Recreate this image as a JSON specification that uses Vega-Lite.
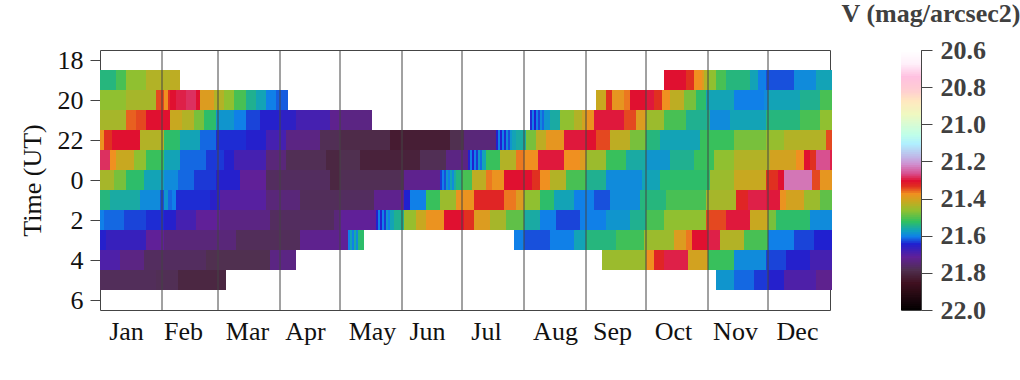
{"$schema":"https://vega.github.io/schema/vega-lite/v6.json","padding":{"left":18,"top":0,"right":0,"bottom":0},"background":"white","bounds":"flush","spacing":71,
"config":{"view":{"stroke":"#444444","strokeWidth":1},"font":"Liberation Serif"},
"datasets":{
"months":[{"d":31},{"d":59},{"d":90},{"d":120},{"d":151},{"d":181},{"d":212},{"d":243},{"d":273},{"d":304},{"d":334}],
"bar":[{"a":20.6,"b":20.62},{"a":20.61,"b":20.63},{"a":20.62,"b":20.64},{"a":20.63,"b":20.65},{"a":20.64,"b":20.66},{"a":20.65,"b":20.67},{"a":20.66,"b":20.68},{"a":20.67,"b":20.69},{"a":20.68,"b":20.7},{"a":20.69,"b":20.71},{"a":20.7,"b":20.72},{"a":20.71,"b":20.73},{"a":20.72,"b":20.74},{"a":20.73,"b":20.75},{"a":20.74,"b":20.76},{"a":20.75,"b":20.77},{"a":20.76,"b":20.78},{"a":20.77,"b":20.79},{"a":20.78,"b":20.8},{"a":20.79,"b":20.81},{"a":20.8,"b":20.82},{"a":20.81,"b":20.83},{"a":20.82,"b":20.84},{"a":20.83,"b":20.85},{"a":20.84,"b":20.86},{"a":20.85,"b":20.87},{"a":20.86,"b":20.88},{"a":20.87,"b":20.89},{"a":20.88,"b":20.9},{"a":20.89,"b":20.91},{"a":20.9,"b":20.92},{"a":20.91,"b":20.93},{"a":20.92,"b":20.94},{"a":20.93,"b":20.95},{"a":20.94,"b":20.96},{"a":20.95,"b":20.97},{"a":20.96,"b":20.98},{"a":20.97,"b":20.99},{"a":20.98,"b":21.0},{"a":20.99,"b":21.01},{"a":21.0,"b":21.02},{"a":21.01,"b":21.03},{"a":21.02,"b":21.04},{"a":21.03,"b":21.05},{"a":21.04,"b":21.06},{"a":21.05,"b":21.07},{"a":21.06,"b":21.08},{"a":21.07,"b":21.09},{"a":21.08,"b":21.1},{"a":21.09,"b":21.11},{"a":21.1,"b":21.12},{"a":21.11,"b":21.13},{"a":21.12,"b":21.14},{"a":21.13,"b":21.15},{"a":21.14,"b":21.16},{"a":21.15,"b":21.17},{"a":21.16,"b":21.18},{"a":21.17,"b":21.19},{"a":21.18,"b":21.2},{"a":21.19,"b":21.21},{"a":21.2,"b":21.22},{"a":21.21,"b":21.23},{"a":21.22,"b":21.24},{"a":21.23,"b":21.25},{"a":21.24,"b":21.26},{"a":21.25,"b":21.27},{"a":21.26,"b":21.28},{"a":21.27,"b":21.29},{"a":21.28,"b":21.3},{"a":21.29,"b":21.31},{"a":21.3,"b":21.32},{"a":21.31,"b":21.33},{"a":21.32,"b":21.34},{"a":21.33,"b":21.35},{"a":21.34,"b":21.36},{"a":21.35,"b":21.37},{"a":21.36,"b":21.38},{"a":21.37,"b":21.39},{"a":21.38,"b":21.4},{"a":21.39,"b":21.41},{"a":21.4,"b":21.42},{"a":21.41,"b":21.43},{"a":21.42,"b":21.44},{"a":21.43,"b":21.45},{"a":21.44,"b":21.46},{"a":21.45,"b":21.47},{"a":21.46,"b":21.48},{"a":21.47,"b":21.49},{"a":21.48,"b":21.5},{"a":21.49,"b":21.51},{"a":21.5,"b":21.52},{"a":21.51,"b":21.53},{"a":21.52,"b":21.54},{"a":21.53,"b":21.55},{"a":21.54,"b":21.56},{"a":21.55,"b":21.57},{"a":21.56,"b":21.58},{"a":21.57,"b":21.59},{"a":21.58,"b":21.6},{"a":21.59,"b":21.61},{"a":21.6,"b":21.62},{"a":21.61,"b":21.63},{"a":21.62,"b":21.64},{"a":21.63,"b":21.65},{"a":21.64,"b":21.66},{"a":21.65,"b":21.67},{"a":21.66,"b":21.68},{"a":21.67,"b":21.69},{"a":21.68,"b":21.7},{"a":21.69,"b":21.71},{"a":21.7,"b":21.72},{"a":21.71,"b":21.73},{"a":21.72,"b":21.74},{"a":21.73,"b":21.75},{"a":21.74,"b":21.76},{"a":21.75,"b":21.77},{"a":21.76,"b":21.78},{"a":21.77,"b":21.79},{"a":21.78,"b":21.8},{"a":21.79,"b":21.81},{"a":21.8,"b":21.82},{"a":21.81,"b":21.83},{"a":21.82,"b":21.84},{"a":21.83,"b":21.85},{"a":21.84,"b":21.86},{"a":21.85,"b":21.87},{"a":21.86,"b":21.88},{"a":21.87,"b":21.89},{"a":21.88,"b":21.9},{"a":21.89,"b":21.91},{"a":21.9,"b":21.92},{"a":21.91,"b":21.93},{"a":21.92,"b":21.94},{"a":21.93,"b":21.95},{"a":21.94,"b":21.96},{"a":21.95,"b":21.97},{"a":21.96,"b":21.98},{"a":21.97,"b":21.99},{"a":21.98,"b":22.0},{"a":21.99,"b":22.0}],
"cells":[
{"d0":0,"d1":8,"t0":18.5,"t1":19.5,"v":21.535},{"d0":8,"d1":13,"t0":18.5,"t1":19.5,"v":21.505},{"d0":13,"d1":23,"t0":18.5,"t1":19.5,"v":21.46},{"d0":23,"d1":35,"t0":18.5,"t1":19.5,"v":21.43},{"d0":35,"d1":40,"t0":18.5,"t1":19.5,"v":21.42},
{"d0":282,"d1":293,"t0":18.5,"t1":19.5,"v":21.30},{"d0":293,"d1":297,"t0":18.5,"t1":19.5,"v":21.33},{"d0":297,"d1":301,"t0":18.5,"t1":19.5,"v":21.37},{"d0":301,"d1":302,"t0":18.5,"t1":19.5,"v":21.39},{"d0":302,"d1":304,"t0":18.5,"t1":19.5,"v":21.43},{"d0":304,"d1":308,"t0":18.5,"t1":19.5,"v":21.46},{"d0":308,"d1":313,"t0":18.5,"t1":19.5,"v":21.505},{"d0":313,"d1":325,"t0":18.5,"t1":19.5,"v":21.535},{"d0":325,"d1":329,"t0":18.5,"t1":19.5,"v":21.565},{"d0":329,"d1":333,"t0":18.5,"t1":19.5,"v":21.60},{"d0":333,"d1":347,"t0":18.5,"t1":19.5,"v":21.62},{"d0":347,"d1":358,"t0":18.5,"t1":19.5,"v":21.59},{"d0":358,"d1":366,"t0":18.5,"t1":19.5,"v":21.565},
{"d0":0,"d1":13,"t0":19.5,"t1":20.5,"v":21.46},{"d0":13,"d1":28,"t0":19.5,"t1":20.5,"v":21.44},{"d0":28,"d1":32,"t0":19.5,"t1":20.5,"v":21.34},{"d0":32,"d1":34,"t0":19.5,"t1":20.5,"v":21.37},{"d0":34,"d1":35,"t0":19.5,"t1":20.5,"v":21.33},{"d0":35,"d1":38,"t0":19.5,"t1":20.5,"v":21.30},{"d0":38,"d1":43,"t0":19.5,"t1":20.5,"v":21.29},{"d0":43,"d1":48,"t0":19.5,"t1":20.5,"v":21.28},{"d0":48,"d1":50,"t0":19.5,"t1":20.5,"v":21.30},{"d0":50,"d1":57,"t0":19.5,"t1":20.5,"v":21.39},{"d0":57,"d1":62,"t0":19.5,"t1":20.5,"v":21.43},{"d0":62,"d1":67,"t0":19.5,"t1":20.5,"v":21.46},{"d0":67,"d1":73,"t0":19.5,"t1":20.5,"v":21.505},{"d0":73,"d1":78,"t0":19.5,"t1":20.5,"v":21.545},{"d0":78,"d1":83,"t0":19.5,"t1":20.5,"v":21.565},{"d0":83,"d1":88,"t0":19.5,"t1":20.5,"v":21.60},{"d0":88,"d1":94,"t0":19.5,"t1":20.5,"v":21.615},
{"d0":248,"d1":253,"t0":19.5,"t1":20.5,"v":21.41},{"d0":253,"d1":256,"t0":19.5,"t1":20.5,"v":21.33},{"d0":256,"d1":262,"t0":19.5,"t1":20.5,"v":21.38},{"d0":262,"d1":265,"t0":19.5,"t1":20.5,"v":21.36},{"d0":265,"d1":273,"t0":19.5,"t1":20.5,"v":21.30},{"d0":273,"d1":277,"t0":19.5,"t1":20.5,"v":21.295},{"d0":277,"d1":281,"t0":19.5,"t1":20.5,"v":21.33},{"d0":281,"d1":285,"t0":19.5,"t1":20.5,"v":21.37},{"d0":285,"d1":292,"t0":19.5,"t1":20.5,"v":21.42},{"d0":292,"d1":298,"t0":19.5,"t1":20.5,"v":21.475},{"d0":298,"d1":303,"t0":19.5,"t1":20.5,"v":21.525},{"d0":303,"d1":317,"t0":19.5,"t1":20.5,"v":21.565},{"d0":317,"d1":332,"t0":19.5,"t1":20.5,"v":21.60},{"d0":332,"d1":334,"t0":19.5,"t1":20.5,"v":21.59},{"d0":334,"d1":350,"t0":19.5,"t1":20.5,"v":21.565},{"d0":350,"d1":360,"t0":19.5,"t1":20.5,"v":21.545},{"d0":360,"d1":366,"t0":19.5,"t1":20.5,"v":21.505},
{"d0":0,"d1":13,"t0":20.5,"t1":21.5,"v":21.44},{"d0":13,"d1":18,"t0":20.5,"t1":21.5,"v":21.35},{"d0":18,"d1":23,"t0":20.5,"t1":21.5,"v":21.34},{"d0":23,"d1":35,"t0":20.5,"t1":21.5,"v":21.30},{"d0":35,"d1":41,"t0":20.5,"t1":21.5,"v":21.41},{"d0":41,"d1":47,"t0":20.5,"t1":21.5,"v":21.43},{"d0":47,"d1":52,"t0":20.5,"t1":21.5,"v":21.475},{"d0":52,"d1":58,"t0":20.5,"t1":21.5,"v":21.525},{"d0":58,"d1":67,"t0":20.5,"t1":21.5,"v":21.58},{"d0":67,"d1":73,"t0":20.5,"t1":21.5,"v":21.60},{"d0":73,"d1":80,"t0":20.5,"t1":21.5,"v":21.625},{"d0":80,"d1":90,"t0":20.5,"t1":21.5,"v":21.645},{"d0":90,"d1":98,"t0":20.5,"t1":21.5,"v":21.655},{"d0":98,"d1":115,"t0":20.5,"t1":21.5,"v":21.68},{"d0":115,"d1":120,"t0":20.5,"t1":21.5,"v":21.72},{"d0":120,"d1":136,"t0":20.5,"t1":21.5,"v":21.73},
{"d0":215,"d1":216,"t0":20.5,"t1":21.5,"v":21.635},{"d0":216,"d1":217,"t0":20.5,"t1":21.5,"v":21.60},{"d0":217,"d1":218,"t0":20.5,"t1":21.5,"v":21.64},{"d0":218,"d1":219,"t0":20.5,"t1":21.5,"v":21.60},{"d0":219,"d1":220,"t0":20.5,"t1":21.5,"v":21.625},{"d0":220,"d1":221,"t0":20.5,"t1":21.5,"v":21.59},{"d0":221,"d1":222,"t0":20.5,"t1":21.5,"v":21.61},{"d0":222,"d1":225,"t0":20.5,"t1":21.5,"v":21.58},{"d0":225,"d1":230,"t0":20.5,"t1":21.5,"v":21.555},{"d0":230,"d1":237,"t0":20.5,"t1":21.5,"v":21.46},{"d0":237,"d1":241,"t0":20.5,"t1":21.5,"v":21.43},{"d0":241,"d1":243,"t0":20.5,"t1":21.5,"v":21.40},{"d0":243,"d1":247,"t0":20.5,"t1":21.5,"v":21.375},{"d0":247,"d1":262,"t0":20.5,"t1":21.5,"v":21.295},{"d0":262,"d1":268,"t0":20.5,"t1":21.5,"v":21.34},{"d0":268,"d1":273,"t0":20.5,"t1":21.5,"v":21.39},{"d0":273,"d1":282,"t0":20.5,"t1":21.5,"v":21.45},{"d0":282,"d1":293,"t0":20.5,"t1":21.5,"v":21.505},{"d0":293,"d1":305,"t0":20.5,"t1":21.5,"v":21.545},{"d0":305,"d1":315,"t0":20.5,"t1":21.5,"v":21.59},{"d0":315,"d1":333,"t0":20.5,"t1":21.5,"v":21.565},{"d0":333,"d1":350,"t0":20.5,"t1":21.5,"v":21.535},{"d0":350,"d1":360,"t0":20.5,"t1":21.5,"v":21.505},{"d0":360,"d1":366,"t0":20.5,"t1":21.5,"v":21.46},
{"d0":0,"d1":2,"t0":21.5,"t1":22.5,"v":21.375},{"d0":2,"d1":6,"t0":21.5,"t1":22.5,"v":21.33},{"d0":6,"d1":20,"t0":21.5,"t1":22.5,"v":21.30},{"d0":20,"d1":32,"t0":21.5,"t1":22.5,"v":21.43},{"d0":32,"d1":40,"t0":21.5,"t1":22.5,"v":21.525},{"d0":40,"d1":50,"t0":21.5,"t1":22.5,"v":21.565},{"d0":50,"d1":58,"t0":21.5,"t1":22.5,"v":21.61},{"d0":58,"d1":73,"t0":21.5,"t1":22.5,"v":21.635},{"d0":73,"d1":83,"t0":21.5,"t1":22.5,"v":21.645},{"d0":83,"d1":93,"t0":21.5,"t1":22.5,"v":21.68},{"d0":93,"d1":110,"t0":21.5,"t1":22.5,"v":21.73},{"d0":110,"d1":120,"t0":21.5,"t1":22.5,"v":21.775},{"d0":120,"d1":145,"t0":21.5,"t1":22.5,"v":21.79},{"d0":145,"d1":150,"t0":21.5,"t1":22.5,"v":21.825},{"d0":150,"d1":175,"t0":21.5,"t1":22.5,"v":21.82},{"d0":175,"d1":182,"t0":21.5,"t1":22.5,"v":21.78},{"d0":182,"d1":198,"t0":21.5,"t1":22.5,"v":21.74},
{"d0":198,"d1":199,"t0":21.5,"t1":22.5,"v":21.645},{"d0":199,"d1":200,"t0":21.5,"t1":22.5,"v":21.60},{"d0":200,"d1":201,"t0":21.5,"t1":22.5,"v":21.64},{"d0":201,"d1":202,"t0":21.5,"t1":22.5,"v":21.60},{"d0":202,"d1":203,"t0":21.5,"t1":22.5,"v":21.635},{"d0":203,"d1":204,"t0":21.5,"t1":22.5,"v":21.59},{"d0":204,"d1":205,"t0":21.5,"t1":22.5,"v":21.62},{"d0":205,"d1":206,"t0":21.5,"t1":22.5,"v":21.58},{"d0":206,"d1":208,"t0":21.5,"t1":22.5,"v":21.565},{"d0":208,"d1":213,"t0":21.5,"t1":22.5,"v":21.555},{"d0":213,"d1":218,"t0":21.5,"t1":22.5,"v":21.475},{"d0":218,"d1":223,"t0":21.5,"t1":22.5,"v":21.42},{"d0":223,"d1":232,"t0":21.5,"t1":22.5,"v":21.38},{"d0":232,"d1":243,"t0":21.5,"t1":22.5,"v":21.295},{"d0":243,"d1":248,"t0":21.5,"t1":22.5,"v":21.30},{"d0":248,"d1":255,"t0":21.5,"t1":22.5,"v":21.34},{"d0":255,"d1":265,"t0":21.5,"t1":22.5,"v":21.42},{"d0":265,"d1":273,"t0":21.5,"t1":22.5,"v":21.475},{"d0":273,"d1":280,"t0":21.5,"t1":22.5,"v":21.535},{"d0":280,"d1":300,"t0":21.5,"t1":22.5,"v":21.565},{"d0":300,"d1":317,"t0":21.5,"t1":22.5,"v":21.515},{"d0":317,"d1":333,"t0":21.5,"t1":22.5,"v":21.475},{"d0":333,"d1":342,"t0":21.5,"t1":22.5,"v":21.455},{"d0":342,"d1":363,"t0":21.5,"t1":22.5,"v":21.43},{"d0":363,"d1":366,"t0":21.5,"t1":22.5,"v":21.34},
{"d0":0,"d1":5,"t0":22.5,"t1":23.5,"v":21.28},{"d0":5,"d1":8,"t0":22.5,"t1":23.5,"v":21.37},{"d0":8,"d1":17,"t0":22.5,"t1":23.5,"v":21.41},{"d0":17,"d1":23,"t0":22.5,"t1":23.5,"v":21.46},{"d0":23,"d1":32,"t0":22.5,"t1":23.5,"v":21.515},{"d0":32,"d1":40,"t0":22.5,"t1":23.5,"v":21.565},{"d0":40,"d1":53,"t0":22.5,"t1":23.5,"v":21.61},{"d0":53,"d1":62,"t0":22.5,"t1":23.5,"v":21.63},{"d0":62,"d1":67,"t0":22.5,"t1":23.5,"v":21.645},{"d0":67,"d1":83,"t0":22.5,"t1":23.5,"v":21.68},{"d0":83,"d1":93,"t0":22.5,"t1":23.5,"v":21.74},{"d0":93,"d1":113,"t0":22.5,"t1":23.5,"v":21.775},{"d0":113,"d1":120,"t0":22.5,"t1":23.5,"v":21.80},{"d0":120,"d1":130,"t0":22.5,"t1":23.5,"v":21.78},{"d0":130,"d1":160,"t0":22.5,"t1":23.5,"v":21.81},{"d0":160,"d1":173,"t0":22.5,"t1":23.5,"v":21.775},{"d0":173,"d1":184,"t0":22.5,"t1":23.5,"v":21.73},
{"d0":184,"d1":185,"t0":22.5,"t1":23.5,"v":21.645},{"d0":185,"d1":186,"t0":22.5,"t1":23.5,"v":21.60},{"d0":186,"d1":187,"t0":22.5,"t1":23.5,"v":21.64},{"d0":187,"d1":188,"t0":22.5,"t1":23.5,"v":21.60},{"d0":188,"d1":189,"t0":22.5,"t1":23.5,"v":21.63},{"d0":189,"d1":190,"t0":22.5,"t1":23.5,"v":21.58},{"d0":190,"d1":191,"t0":22.5,"t1":23.5,"v":21.61},{"d0":191,"d1":193,"t0":22.5,"t1":23.5,"v":21.565},{"d0":193,"d1":200,"t0":22.5,"t1":23.5,"v":21.515},{"d0":200,"d1":208,"t0":22.5,"t1":23.5,"v":21.43},{"d0":208,"d1":212,"t0":22.5,"t1":23.5,"v":21.36},{"d0":212,"d1":219,"t0":22.5,"t1":23.5,"v":21.37},{"d0":219,"d1":232,"t0":22.5,"t1":23.5,"v":21.295},{"d0":232,"d1":240,"t0":22.5,"t1":23.5,"v":21.37},{"d0":240,"d1":243,"t0":22.5,"t1":23.5,"v":21.39},{"d0":243,"d1":253,"t0":22.5,"t1":23.5,"v":21.45},{"d0":253,"d1":263,"t0":22.5,"t1":23.5,"v":21.515},{"d0":263,"d1":273,"t0":22.5,"t1":23.5,"v":21.555},{"d0":273,"d1":285,"t0":22.5,"t1":23.5,"v":21.58},{"d0":285,"d1":297,"t0":22.5,"t1":23.5,"v":21.545},{"d0":297,"d1":307,"t0":22.5,"t1":23.5,"v":21.515},{"d0":307,"d1":317,"t0":22.5,"t1":23.5,"v":21.46},{"d0":317,"d1":335,"t0":22.5,"t1":23.5,"v":21.43},{"d0":335,"d1":348,"t0":22.5,"t1":23.5,"v":21.40},{"d0":348,"d1":352,"t0":22.5,"t1":23.5,"v":21.37},{"d0":352,"d1":355,"t0":22.5,"t1":23.5,"v":21.30},{"d0":355,"d1":358,"t0":22.5,"t1":23.5,"v":21.33},{"d0":358,"d1":365,"t0":22.5,"t1":23.5,"v":21.26},{"d0":365,"d1":366,"t0":22.5,"t1":23.5,"v":21.29},
{"d0":0,"d1":7,"t0":23.5,"t1":24.5,"v":21.44},{"d0":7,"d1":13,"t0":23.5,"t1":24.5,"v":21.475},{"d0":13,"d1":22,"t0":23.5,"t1":24.5,"v":21.525},{"d0":22,"d1":32,"t0":23.5,"t1":24.5,"v":21.565},{"d0":32,"d1":39,"t0":23.5,"t1":24.5,"v":21.59},{"d0":39,"d1":47,"t0":23.5,"t1":24.5,"v":21.61},{"d0":47,"d1":58,"t0":23.5,"t1":24.5,"v":21.63},{"d0":58,"d1":70,"t0":23.5,"t1":24.5,"v":21.645},{"d0":70,"d1":83,"t0":23.5,"t1":24.5,"v":21.71},{"d0":83,"d1":115,"t0":23.5,"t1":24.5,"v":21.765},{"d0":115,"d1":120,"t0":23.5,"t1":24.5,"v":21.80},{"d0":120,"d1":152,"t0":23.5,"t1":24.5,"v":21.775},{"d0":152,"d1":170,"t0":23.5,"t1":24.5,"v":21.72},
{"d0":170,"d1":171,"t0":23.5,"t1":24.5,"v":21.63},{"d0":171,"d1":172,"t0":23.5,"t1":24.5,"v":21.60},{"d0":172,"d1":173,"t0":23.5,"t1":24.5,"v":21.62},{"d0":173,"d1":174,"t0":23.5,"t1":24.5,"v":21.58},{"d0":174,"d1":175,"t0":23.5,"t1":24.5,"v":21.60},{"d0":175,"d1":176,"t0":23.5,"t1":24.5,"v":21.565},{"d0":176,"d1":177,"t0":23.5,"t1":24.5,"v":21.59},{"d0":177,"d1":178,"t0":23.5,"t1":24.5,"v":21.555},{"d0":178,"d1":181,"t0":23.5,"t1":24.5,"v":21.535},{"d0":181,"d1":186,"t0":23.5,"t1":24.5,"v":21.505},{"d0":186,"d1":193,"t0":23.5,"t1":24.5,"v":21.42},{"d0":193,"d1":196,"t0":23.5,"t1":24.5,"v":21.36},{"d0":196,"d1":202,"t0":23.5,"t1":24.5,"v":21.375},{"d0":202,"d1":216,"t0":23.5,"t1":24.5,"v":21.30},{"d0":216,"d1":220,"t0":23.5,"t1":24.5,"v":21.33},{"d0":220,"d1":225,"t0":23.5,"t1":24.5,"v":21.37},{"d0":225,"d1":233,"t0":23.5,"t1":24.5,"v":21.43},{"d0":233,"d1":243,"t0":23.5,"t1":24.5,"v":21.505},{"d0":243,"d1":253,"t0":23.5,"t1":24.5,"v":21.545},{"d0":253,"d1":271,"t0":23.5,"t1":24.5,"v":21.59},{"d0":271,"d1":280,"t0":23.5,"t1":24.5,"v":21.565},{"d0":280,"d1":305,"t0":23.5,"t1":24.5,"v":21.525},{"d0":305,"d1":317,"t0":23.5,"t1":24.5,"v":21.45},{"d0":317,"d1":333,"t0":23.5,"t1":24.5,"v":21.41},{"d0":333,"d1":339,"t0":23.5,"t1":24.5,"v":21.33},{"d0":339,"d1":342,"t0":23.5,"t1":24.5,"v":21.30},{"d0":342,"d1":356,"t0":23.5,"t1":24.5,"v":21.23},{"d0":356,"d1":360,"t0":23.5,"t1":24.5,"v":21.34},{"d0":360,"d1":366,"t0":23.5,"t1":24.5,"v":21.38},
{"d0":0,"d1":5,"t0":24.5,"t1":25.5,"v":21.535},{"d0":5,"d1":20,"t0":24.5,"t1":25.5,"v":21.555},{"d0":20,"d1":30,"t0":24.5,"t1":25.5,"v":21.59},{"d0":30,"d1":32,"t0":24.5,"t1":25.5,"v":21.62},{"d0":32,"d1":34,"t0":24.5,"t1":25.5,"v":21.58},{"d0":34,"d1":36,"t0":24.5,"t1":25.5,"v":21.61},{"d0":36,"d1":38,"t0":24.5,"t1":25.5,"v":21.60},{"d0":38,"d1":55,"t0":24.5,"t1":25.5,"v":21.635},{"d0":55,"d1":60,"t0":24.5,"t1":25.5,"v":21.65},{"d0":60,"d1":83,"t0":24.5,"t1":25.5,"v":21.70},{"d0":83,"d1":100,"t0":24.5,"t1":25.5,"v":21.74},{"d0":100,"d1":120,"t0":24.5,"t1":25.5,"v":21.77},{"d0":120,"d1":137,"t0":24.5,"t1":25.5,"v":21.765},{"d0":137,"d1":152,"t0":24.5,"t1":25.5,"v":21.72},{"d0":152,"d1":155,"t0":24.5,"t1":25.5,"v":21.64},{"d0":155,"d1":163,"t0":24.5,"t1":25.5,"v":21.60},{"d0":163,"d1":170,"t0":24.5,"t1":25.5,"v":21.515},{"d0":170,"d1":178,"t0":24.5,"t1":25.5,"v":21.45},{"d0":178,"d1":187,"t0":24.5,"t1":25.5,"v":21.375},{"d0":187,"d1":202,"t0":24.5,"t1":25.5,"v":21.32},{"d0":202,"d1":208,"t0":24.5,"t1":25.5,"v":21.36},{"d0":208,"d1":212,"t0":24.5,"t1":25.5,"v":21.39},{"d0":212,"d1":220,"t0":24.5,"t1":25.5,"v":21.46},{"d0":220,"d1":227,"t0":24.5,"t1":25.5,"v":21.525},{"d0":227,"d1":237,"t0":24.5,"t1":25.5,"v":21.565},{"d0":237,"d1":247,"t0":24.5,"t1":25.5,"v":21.60},{"d0":247,"d1":255,"t0":24.5,"t1":25.5,"v":21.62},{"d0":255,"d1":270,"t0":24.5,"t1":25.5,"v":21.59},{"d0":270,"d1":283,"t0":24.5,"t1":25.5,"v":21.535},{"d0":283,"d1":303,"t0":24.5,"t1":25.5,"v":21.505},{"d0":303,"d1":318,"t0":24.5,"t1":25.5,"v":21.44},{"d0":318,"d1":324,"t0":24.5,"t1":25.5,"v":21.32},{"d0":324,"d1":333,"t0":24.5,"t1":25.5,"v":21.29},{"d0":333,"d1":340,"t0":24.5,"t1":25.5,"v":21.295},{"d0":340,"d1":343,"t0":24.5,"t1":25.5,"v":21.375},{"d0":343,"d1":352,"t0":24.5,"t1":25.5,"v":21.40},{"d0":352,"d1":360,"t0":24.5,"t1":25.5,"v":21.45},{"d0":360,"d1":366,"t0":24.5,"t1":25.5,"v":21.49},
{"d0":0,"d1":2,"t0":25.5,"t1":26.5,"v":21.60},{"d0":2,"d1":12,"t0":25.5,"t1":26.5,"v":21.61},{"d0":12,"d1":23,"t0":25.5,"t1":26.5,"v":21.625},{"d0":23,"d1":32,"t0":25.5,"t1":26.5,"v":21.635},{"d0":32,"d1":38,"t0":25.5,"t1":26.5,"v":21.645},{"d0":38,"d1":48,"t0":25.5,"t1":26.5,"v":21.68},{"d0":48,"d1":60,"t0":25.5,"t1":26.5,"v":21.71},{"d0":60,"d1":85,"t0":25.5,"t1":26.5,"v":21.73},{"d0":85,"d1":117,"t0":25.5,"t1":26.5,"v":21.765},{"d0":117,"d1":120,"t0":25.5,"t1":26.5,"v":21.74},{"d0":120,"d1":138,"t0":25.5,"t1":26.5,"v":21.71},
{"d0":138,"d1":139,"t0":25.5,"t1":26.5,"v":21.645},{"d0":139,"d1":140,"t0":25.5,"t1":26.5,"v":21.60},{"d0":140,"d1":141,"t0":25.5,"t1":26.5,"v":21.64},{"d0":141,"d1":142,"t0":25.5,"t1":26.5,"v":21.60},{"d0":142,"d1":143,"t0":25.5,"t1":26.5,"v":21.63},{"d0":143,"d1":144,"t0":25.5,"t1":26.5,"v":21.58},{"d0":144,"d1":145,"t0":25.5,"t1":26.5,"v":21.60},{"d0":145,"d1":147,"t0":25.5,"t1":26.5,"v":21.565},{"d0":147,"d1":152,"t0":25.5,"t1":26.5,"v":21.545},{"d0":152,"d1":158,"t0":25.5,"t1":26.5,"v":21.455},{"d0":158,"d1":163,"t0":25.5,"t1":26.5,"v":21.41},{"d0":163,"d1":172,"t0":25.5,"t1":26.5,"v":21.375},{"d0":172,"d1":182,"t0":25.5,"t1":26.5,"v":21.30},{"d0":182,"d1":187,"t0":25.5,"t1":26.5,"v":21.33},{"d0":187,"d1":195,"t0":25.5,"t1":26.5,"v":21.39},{"d0":195,"d1":203,"t0":25.5,"t1":26.5,"v":21.44},{"d0":203,"d1":212,"t0":25.5,"t1":26.5,"v":21.49},{"d0":212,"d1":220,"t0":25.5,"t1":26.5,"v":21.555},{"d0":220,"d1":228,"t0":25.5,"t1":26.5,"v":21.60},{"d0":228,"d1":240,"t0":25.5,"t1":26.5,"v":21.625},{"d0":240,"d1":253,"t0":25.5,"t1":26.5,"v":21.60},{"d0":253,"d1":265,"t0":25.5,"t1":26.5,"v":21.58},{"d0":265,"d1":273,"t0":25.5,"t1":26.5,"v":21.545},{"d0":273,"d1":282,"t0":25.5,"t1":26.5,"v":21.505},{"d0":282,"d1":303,"t0":25.5,"t1":26.5,"v":21.46},{"d0":303,"d1":313,"t0":25.5,"t1":26.5,"v":21.34},{"d0":313,"d1":325,"t0":25.5,"t1":26.5,"v":21.295},{"d0":325,"d1":334,"t0":25.5,"t1":26.5,"v":21.41},{"d0":334,"d1":338,"t0":25.5,"t1":26.5,"v":21.475},{"d0":338,"d1":355,"t0":25.5,"t1":26.5,"v":21.525},{"d0":355,"d1":366,"t0":25.5,"t1":26.5,"v":21.59},
{"d0":0,"d1":3,"t0":26.5,"t1":27.5,"v":21.645},{"d0":3,"d1":23,"t0":26.5,"t1":27.5,"v":21.665},{"d0":23,"d1":32,"t0":26.5,"t1":27.5,"v":21.71},{"d0":32,"d1":68,"t0":26.5,"t1":27.5,"v":21.74},{"d0":68,"d1":100,"t0":26.5,"t1":27.5,"v":21.77},{"d0":100,"d1":120,"t0":26.5,"t1":27.5,"v":21.72},{"d0":120,"d1":124,"t0":26.5,"t1":27.5,"v":21.71},{"d0":124,"d1":125,"t0":26.5,"t1":27.5,"v":21.60},{"d0":125,"d1":126,"t0":26.5,"t1":27.5,"v":21.565},{"d0":126,"d1":127,"t0":26.5,"t1":27.5,"v":21.60},{"d0":127,"d1":128,"t0":26.5,"t1":27.5,"v":21.555},{"d0":128,"d1":129,"t0":26.5,"t1":27.5,"v":21.59},{"d0":129,"d1":130,"t0":26.5,"t1":27.5,"v":21.535},{"d0":130,"d1":132,"t0":26.5,"t1":27.5,"v":21.525},
{"d0":207,"d1":212,"t0":26.5,"t1":27.5,"v":21.60},{"d0":212,"d1":225,"t0":26.5,"t1":27.5,"v":21.62},{"d0":225,"d1":237,"t0":26.5,"t1":27.5,"v":21.60},{"d0":237,"d1":243,"t0":26.5,"t1":27.5,"v":21.565},{"d0":243,"d1":258,"t0":26.5,"t1":27.5,"v":21.535},{"d0":258,"d1":272,"t0":26.5,"t1":27.5,"v":21.51},{"d0":272,"d1":287,"t0":26.5,"t1":27.5,"v":21.45},{"d0":287,"d1":293,"t0":26.5,"t1":27.5,"v":21.39},{"d0":293,"d1":296,"t0":26.5,"t1":27.5,"v":21.36},{"d0":296,"d1":304,"t0":26.5,"t1":27.5,"v":21.30},{"d0":304,"d1":310,"t0":26.5,"t1":27.5,"v":21.29},{"d0":310,"d1":322,"t0":26.5,"t1":27.5,"v":21.43},{"d0":322,"d1":334,"t0":26.5,"t1":27.5,"v":21.505},{"d0":334,"d1":347,"t0":26.5,"t1":27.5,"v":21.60},{"d0":347,"d1":357,"t0":26.5,"t1":27.5,"v":21.625},{"d0":357,"d1":366,"t0":26.5,"t1":27.5,"v":21.64},
{"d0":0,"d1":10,"t0":27.5,"t1":28.5,"v":21.69},{"d0":10,"d1":22,"t0":27.5,"t1":28.5,"v":21.73},{"d0":22,"d1":53,"t0":27.5,"t1":28.5,"v":21.765},{"d0":53,"d1":85,"t0":27.5,"t1":28.5,"v":21.78},{"d0":85,"d1":98,"t0":27.5,"t1":28.5,"v":21.73},
{"d0":251,"d1":273,"t0":27.5,"t1":28.5,"v":21.45},{"d0":273,"d1":277,"t0":27.5,"t1":28.5,"v":21.37},{"d0":277,"d1":282,"t0":27.5,"t1":28.5,"v":21.32},{"d0":282,"d1":294,"t0":27.5,"t1":28.5,"v":21.29},{"d0":294,"d1":304,"t0":27.5,"t1":28.5,"v":21.40},{"d0":304,"d1":317,"t0":27.5,"t1":28.5,"v":21.515},{"d0":317,"d1":333,"t0":27.5,"t1":28.5,"v":21.59},{"d0":333,"d1":343,"t0":27.5,"t1":28.5,"v":21.625},{"d0":343,"d1":355,"t0":27.5,"t1":28.5,"v":21.645},{"d0":355,"d1":366,"t0":27.5,"t1":28.5,"v":21.68},
{"d0":0,"d1":28,"t0":28.5,"t1":29.5,"v":21.77},{"d0":28,"d1":39,"t0":28.5,"t1":29.5,"v":21.775},{"d0":39,"d1":63,"t0":28.5,"t1":29.5,"v":21.80},
{"d0":308,"d1":317,"t0":28.5,"t1":29.5,"v":21.58},{"d0":317,"d1":327,"t0":28.5,"t1":29.5,"v":21.61},{"d0":327,"d1":334,"t0":28.5,"t1":29.5,"v":21.63},{"d0":334,"d1":342,"t0":28.5,"t1":29.5,"v":21.645},{"d0":342,"d1":358,"t0":28.5,"t1":29.5,"v":21.69},{"d0":358,"d1":366,"t0":28.5,"t1":29.5,"v":21.72}
]},
"hconcat":[
{"width":730,"height":260,"layer":[
{"data":{"name":"cells"},"mark":{"type":"rect","clip":false},
"encoding":{
"x":{"field":"d0","type":"quantitative","scale":{"domain":[0,365],"nice":false,"zero":false},
"axis":{"title":null,"grid":false,"domain":false,"tickSize":0,"labelPadding":8,"labelFont":"Liberation Serif","labelFontSize":26,"labelColor":"#111111","labelFlush":false,"labelOverlap":false,
"values":[13,41.5,73.5,102.5,136,163.5,193,227.5,256,286.5,317.5,348.5],
"labelExpr":"['Jan','Feb','Mar','Apr','May','Jun','Jul','Aug','Sep','Oct','Nov','Dec'][indexof([13,41.5,73.5,102.5,136,163.5,193,227.5,256,286.5,317.5,348.5],datum.value)]"}},
"x2":{"field":"d1"},
"y":{"field":"t0","type":"quantitative","scale":{"domain":[17.5,30.5],"nice":false,"zero":false,"reverse":true},
"axis":{"title":"Time (UT)","titleFont":"Liberation Serif","titleFontSize":26,"titleFontWeight":"normal","titleColor":"#111111","titlePadding":12,"grid":false,"domain":false,"tickSize":10,"tickColor":"#444444","tickWidth":1,"labelPadding":7,"labelFont":"Liberation Serif","labelFontSize":26,"labelColor":"#111111",
"values":[18,20,22,24,26,28,30],"labelExpr":"datum.value%24"}},
"y2":{"field":"t1"},
"color":{"field":"v","type":"quantitative","legend":null,"scale":{"interpolate":"rgb","domain":[20.6,20.67,20.74,20.82,20.87,20.94,21.05,21.10,21.17,21.21,21.26,21.30,21.33,21.37,21.41,21.46,21.52,21.57,21.60,21.64,21.71,21.78,21.85,22.0],"range":["#ffffff","#fff0fa","#ffc0e0","#ffd0d0","#ffe8c0","#f0f8c0","#c0ffe8","#b0f0ff","#c0b8e8","#d090d0","#d85090","#e01030","#e03020","#f09020","#c8a820","#90c030","#30c060","#10a0c0","#1080e8","#2020d0","#602098","#503050","#401020","#000000"]}}
}},
{"data":{"name":"months"},"mark":{"type":"rule","color":"#444444","strokeWidth":1},"encoding":{"x":{"field":"d","type":"quantitative"}}}
]},
{"width":20,"height":260,"data":{"name":"bar"},
"title":{"text":"V (mag/arcsec2)","font":"Liberation Serif","fontSize":26,"fontWeight":"bold","color":"#404040","anchor":"middle","dx":20,"offset":10},
"mark":{"type":"rect"},
"encoding":{
"y":{"field":"a","type":"quantitative","scale":{"domain":[20.6,22.0],"nice":false,"zero":false,"reverse":true},
"axis":{"title":null,"orient":"right","grid":false,"domain":false,"tickSize":11,"tickColor":"#444444","labelPadding":8,"labelFont":"Liberation Serif","labelFontSize":26,"labelFontWeight":"bold","labelColor":"#404040","format":".1f","values":[20.6,20.8,21.0,21.2,21.4,21.6,21.8,22.0]}},
"y2":{"field":"b"},
"color":{"field":"a","type":"quantitative","legend":null,"scale":{"interpolate":"rgb","domain":[20.6,20.67,20.74,20.82,20.87,20.94,21.05,21.10,21.17,21.21,21.26,21.30,21.33,21.37,21.41,21.46,21.52,21.57,21.60,21.64,21.71,21.78,21.85,22.0],"range":["#ffffff","#fff0fa","#ffc0e0","#ffd0d0","#ffe8c0","#f0f8c0","#c0ffe8","#b0f0ff","#c0b8e8","#d090d0","#d85090","#e01030","#e03020","#f09020","#c8a820","#90c030","#30c060","#10a0c0","#1080e8","#2020d0","#602098","#503050","#401020","#000000"]}}
}}
]}
